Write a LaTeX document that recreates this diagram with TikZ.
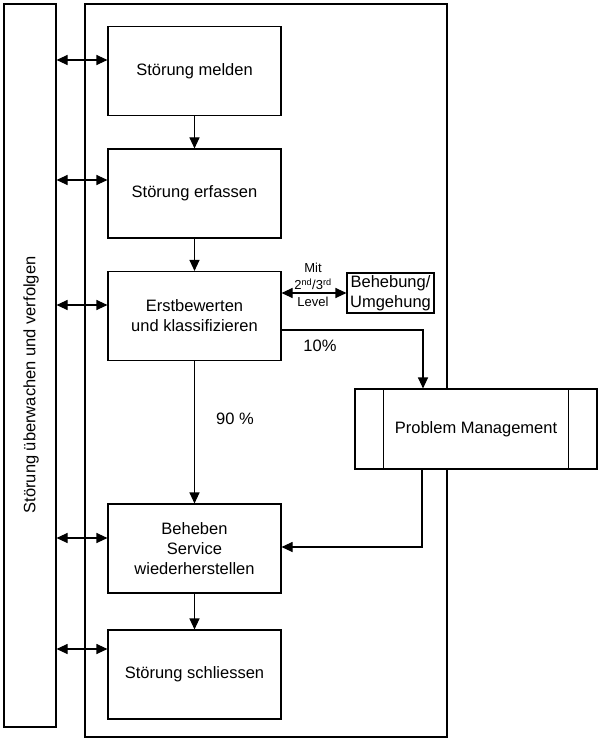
\documentclass[tikz,border=0pt]{standalone}
\usepackage{fontspec}
\setmainfont{Liberation Sans}
\usetikzlibrary{arrows.meta}
\begin{document}
\begin{tikzpicture}[x=1pt,y=-1pt,line width=1.1pt,
  tip/.tip={Triangle[length=11pt,width=10pt]},
  arr/.style={-tip},
  darr/.style={tip-tip},
  stepbox/.style={draw,fill=white,minimum width=173pt,minimum height=89pt,
    inner sep=0pt,align=center,font=\fontsize{16.5}{20}\selectfont},
  lbl/.style={inner sep=0pt,align=center,font=\fontsize{16.5}{20}\selectfont},
  small/.style={inner sep=0pt,align=center,font=\fontsize{13}{17}\selectfont}]
\useasboundingbox (0,0) rectangle (600,738);

% outer frames
\node[draw,minimum width=362pt,minimum height=733pt,inner sep=0pt] (frame) at (266,370.5) {};
\node[draw,minimum width=52pt,minimum height=723pt,inner sep=0pt] (monitor) at (30,365.5) {};
\node[lbl,rotate=90] (mlabel) at (31,385) {Störung überwachen und verfolgen};

% process steps
\node[stepbox] (m1) at (194.5,71) {Störung melden};
\node[stepbox] (m2) at (194.5,193.5) {Störung erfassen};
\node[stepbox] (m3) at (194.5,316) {Erstbewerten\\und klassifizieren};
\node[stepbox] (m4) at (194.5,548.5) {Beheben\\Service\\wiederherstellen};
\node[stepbox] (m5) at (194.5,674.5) {Störung schliessen};

% side boxes
\node[draw,fill=white,minimum width=87pt,minimum height=40pt,inner sep=0pt,
  align=center,font=\fontsize{16.5}{20}\selectfont] (beh) at (390.5,293) {Behebung/\\Umgehung};
\node[draw,fill=white,minimum width=242pt,minimum height=80pt,inner sep=0pt,
  font=\fontsize{16.5}{20}\selectfont] (pm) at (476,429) {Problem Management};
\draw ([xshift=29pt]pm.north west) -- ([xshift=29pt]pm.south west);
\draw ([xshift=-29pt]pm.north east) -- ([xshift=-29pt]pm.south east);

% main flow
\draw[arr] (m1.south) -- (m2.north);
\draw[arr] (m2.south) -- (m3.north);
\draw[arr] (m3.south) -- (m4.north);
\draw[arr] (m4.south) -- (m5.north);

% links to monitoring
\coordinate (a1) at ([yshift=11pt]m1.west);
\coordinate (a2) at ([yshift=13.5pt]m2.west);
\coordinate (a3) at ([yshift=11pt]m3.west);
\coordinate (a4) at ([yshift=10.5pt]m4.west);
\coordinate (a5) at ([yshift=25.5pt]m5.west);
\foreach \c in {a1,a2,a3,a4,a5}
  \draw[darr] (monitor.east |- \c) -- (\c);

% second / third level
\draw[darr] (m3.east |- beh.west) -- (beh.west);
\node[small] (lvl) at (313,285) {Mit\\2\textsuperscript{nd}/3\textsuperscript{rd}\\Level};

% problem management branch
\coordinate (split) at (423,330);
\draw[arr] (m3.east |- split) -| (split |- pm.north);
\coordinate (ret) at (422,547);
\draw[arr] (ret |- pm.south) |- (m4.east |- ret);

\node[lbl] (p10) at (320,346) {10\%};
\node[lbl] (p90) at (235,419) {90 \%};
\end{tikzpicture}
\end{document}
